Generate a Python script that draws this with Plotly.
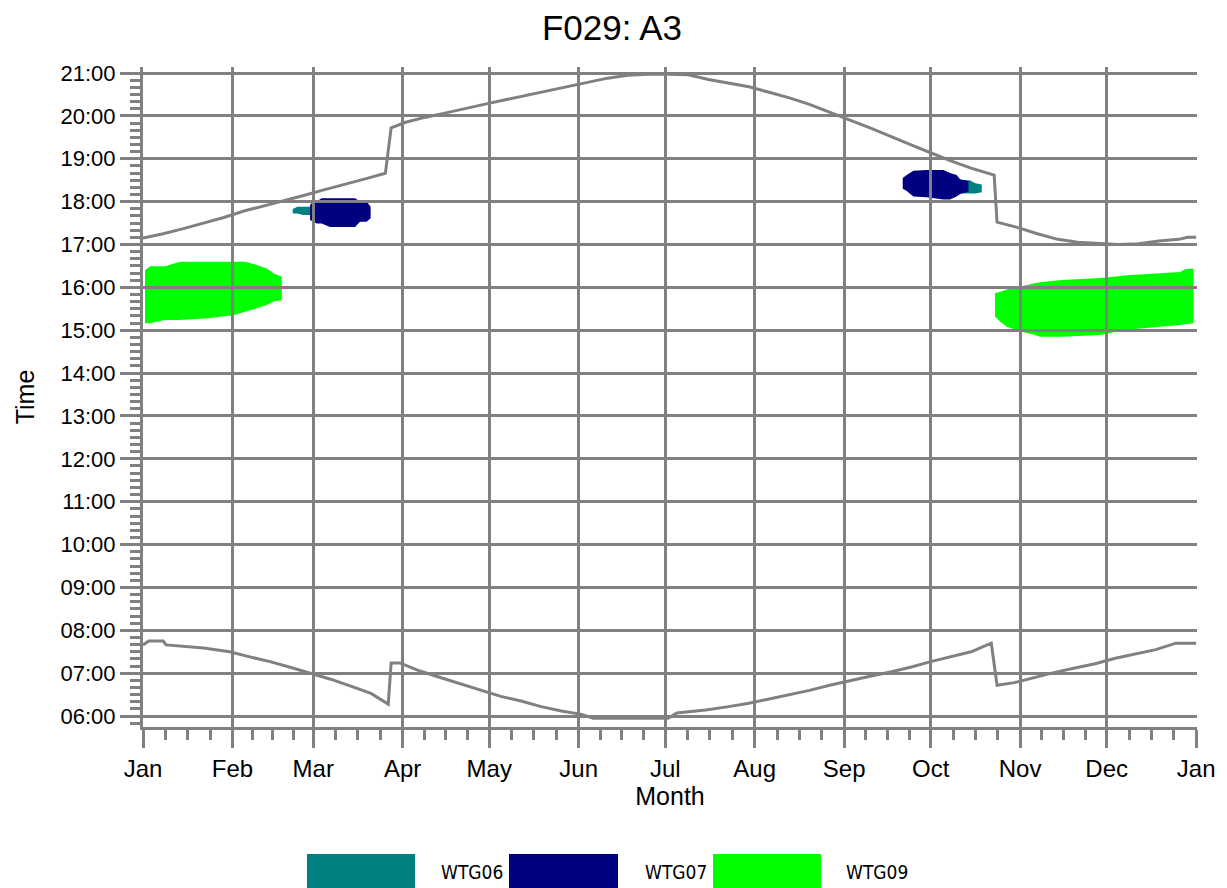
import plotly.graph_objects as go

# ---------------- data ----------------
month_names = ["Jan", "Feb", "Mar", "Apr", "May", "Jun", "Jul", "Aug", "Sep", "Oct", "Nov", "Dec", "Jan"]
month_starts = [0, 31, 59, 90, 120, 151, 181, 212, 243, 273, 304, 334, 365]
hour_ticks = list(range(6, 22))
hour_labels = [f"{h:02d}:00" for h in hour_ticks]

# sunset (day of year, hours)
sunset_day = [0, 7, 14, 21, 28, 35, 42, 49, 56, 63, 70, 77, 84, 86, 91, 98, 105, 112, 119, 126,
              133, 140, 147, 154, 161, 168, 175, 182, 189, 196, 203, 210, 217, 224, 231, 238,
              245, 252, 259, 266, 273, 280, 287, 295, 296, 303, 310, 317, 324, 331, 338, 345,
              352, 359, 362, 365]
sunset_time = [17.15, 17.25, 17.37, 17.50, 17.63, 17.78, 17.90, 18.03, 18.15, 18.28, 18.40, 18.53,
               18.66, 19.72, 19.85, 19.97, 20.07, 20.18, 20.28, 20.38, 20.48, 20.58, 20.68, 20.78,
               20.88, 20.95, 20.97, 20.97, 20.96, 20.85, 20.76, 20.68, 20.55, 20.42, 20.27, 20.08,
               19.90, 19.72, 19.52, 19.33, 19.14, 18.95, 18.78, 18.62, 17.52, 17.40, 17.25, 17.12,
               17.05, 17.02, 17.00, 17.02, 17.08, 17.12, 17.17, 17.17]

# sunrise (day of year, hours)
sunrise_day = [0, 2, 7, 8, 21, 30, 37, 44, 51, 58, 65, 72, 79, 85, 86, 89, 96, 103, 110, 117, 124,
               131, 138, 145, 152, 156, 182, 185, 195, 203, 210, 217, 224, 231, 238, 245, 252,
               259, 266, 273, 280, 287, 294, 296, 302, 309, 316, 323, 330, 337, 344, 351, 358, 365]
sunrise_time = [7.66, 7.75, 7.75, 7.66, 7.59, 7.50, 7.38, 7.27, 7.14, 7.00, 6.86, 6.70, 6.53, 6.28, 7.24,
                7.24, 7.05, 6.90, 6.75, 6.60, 6.46, 6.35, 6.22, 6.12, 6.04, 5.95, 5.95, 6.07, 6.14,
                6.22, 6.30, 6.40, 6.50, 6.60, 6.72, 6.83, 6.93, 7.03, 7.14, 7.27, 7.38, 7.50, 7.70,
                6.72, 6.78, 6.90, 7.02, 7.12, 7.22, 7.35, 7.45, 7.55, 7.70, 7.70]

# shadow-flicker periods: day, start time, end time
wtg06_mar_day = [51.9, 53.5, 55.5, 58.5]
wtg06_mar_start = [17.72, 17.72, 17.69, 17.69]
wtg06_mar_end = [17.83, 17.88, 17.88, 17.88]

wtg06_oct_day = [284.0, 286.5, 288.5, 290.7]
wtg06_oct_start = [18.19, 18.19, 18.19, 18.22]
wtg06_oct_end = [18.50, 18.50, 18.43, 18.40]

wtg07_mar_day = [57.9, 59.0, 60.2, 61.9, 64.8, 73.5, 75.2, 77.5, 78.9]
wtg07_mar_start = [17.57, 17.53, 17.49, 17.49, 17.41, 17.41, 17.53, 17.53, 17.61]
wtg07_mar_end = [17.92, 18.00, 18.00, 18.08, 18.08, 18.08, 18.00, 18.00, 17.88]

wtg07_oct_day = [263.3, 264.7, 267.0, 271.6, 277.4, 279.7, 282.0, 283.2, 286.1]
wtg07_oct_start = [18.30, 18.25, 18.12, 18.10, 18.05, 18.05, 18.12, 18.18, 18.23]
wtg07_oct_end = [18.55, 18.62, 18.72, 18.74, 18.74, 18.67, 18.62, 18.52, 18.48]

wtg09_jan_day = [0.7, 2.5, 7.6, 12.8, 22.6, 31.3, 35.4, 39.4, 42.9, 45.2, 48.1]
wtg09_jan_start = [15.16, 15.16, 15.24, 15.24, 15.28, 15.35, 15.43, 15.51, 15.59, 15.67, 15.70]
wtg09_jan_end = [16.40, 16.49, 16.49, 16.60, 16.60, 16.60, 16.60, 16.52, 16.44, 16.33, 16.25]

wtg09_nov_day = [295.3, 297.1, 299.4, 304.0, 308.6, 310.9, 318.4, 331.7, 336.3, 341.0, 352.5, 359.4, 361.2, 364.1]
wtg09_nov_start = [15.32, 15.20, 15.08, 14.97, 14.90, 14.85, 14.85, 14.89, 14.95, 15.01, 15.08, 15.12, 15.14, 15.16]
wtg09_nov_end = [15.86, 15.90, 15.95, 16.02, 16.09, 16.12, 16.17, 16.22, 16.25, 16.28, 16.33, 16.36, 16.42, 16.44]

turbines = ["WTG06", "WTG07", "WTG09"]
colors = {"WTG06": "#008080", "WTG07": "#000080", "WTG09": "#00FF00"}

GRID = "#808080"
FONT = "Liberation Sans"

# ---------------- figure ----------------
fig = go.Figure()

fig.add_trace(go.Scatter(x=sunset_day, y=sunset_time, mode="lines", line=dict(color=GRID, width=3),
                         showlegend=False, hoverinfo="skip"))
fig.add_trace(go.Scatter(x=sunrise_day, y=sunrise_time, mode="lines", line=dict(color=GRID, width=3),
                         showlegend=False, hoverinfo="skip"))


def blob_path(days, start, end):
    pts = list(zip(days, end)) + list(zip(days[::-1], start[::-1]))
    return "M " + " L ".join(f"{d},{t}" for d, t in pts) + " Z"


blobs = [
    ("WTG06", wtg06_mar_day, wtg06_mar_start, wtg06_mar_end),
    ("WTG06", wtg06_oct_day, wtg06_oct_start, wtg06_oct_end),
    ("WTG07", wtg07_mar_day, wtg07_mar_start, wtg07_mar_end),
    ("WTG07", wtg07_oct_day, wtg07_oct_start, wtg07_oct_end),
    ("WTG09", wtg09_jan_day, wtg09_jan_start, wtg09_jan_end),
    ("WTG09", wtg09_nov_day, wtg09_nov_start, wtg09_nov_end),
]
for name, d, s, e in blobs:
    fig.add_shape(type="path", path=blob_path(d, s, e), xref="x", yref="y",
                  fillcolor=colors[name], line=dict(width=0), layer="below")

# page body adds an 8px offset; layout in figure pixels = reference pixels - OFF
OFF = 8
W, H = 1219, 880
L, R, T, B = 135, 30, 59, 161
pw, ph = W - L - R, H - T - B


def px(x):
    return (x - OFF - L) / pw


def py(y):
    return (H - B - (y - OFF)) / ph


# custom legend (large swatches)
legend_boxes = [(307, 415, 439), (509, 618, 643), (713, 821, 844)]
for name, (x0, x1, xt) in zip(turbines, legend_boxes):
    fig.add_shape(type="rect", xref="paper", yref="paper", x0=px(x0), x1=px(x1), y0=py(854), y1=py(895),
                  fillcolor=colors[name], line=dict(width=0), layer="above")
    fig.add_annotation(text=name, xref="paper", yref="paper", x=px(xt), y=py(872), xanchor="left",
                       yanchor="middle", showarrow=False,
                       font=dict(family="DejaVu Sans Condensed, Liberation Sans, sans-serif", size=19,
                                 color="black"))

minor_x = []
for a, b in zip(month_starts[:-1], month_starts[1:]):
    minor_x += [a + (b - a) * k / 4 for k in (1, 2, 3)]

fig.update_layout(
    width=W, height=H,
    margin=dict(l=L, r=R, t=T, b=B),
    paper_bgcolor="white", plot_bgcolor="white",
    showlegend=False,
    title=dict(text="F029: A3", x=(612 - OFF) / W, xref="container", xanchor="center",
               y=1 - (28 - OFF) / H, yref="container", yanchor="middle",
               font=dict(family=FONT, size=35, color="black")),
    font=dict(family=FONT, color="black"),
)

fig.update_xaxes(
    range=[0, 365.3],
    tickmode="array", tickvals=month_starts, ticktext=month_names,
    tickfont=dict(family=FONT, size=24, color="black"),
    ticks="outside", ticklen=18, tickwidth=3, tickcolor=GRID,
    showgrid=True, gridcolor=GRID, gridwidth=3,
    showline=True, linecolor=GRID, linewidth=3,
    zeroline=False,
    minor=dict(tickmode="array", tickvals=minor_x, ticks="outside", ticklen=10, tickwidth=3,
               tickcolor=GRID, showgrid=False),
    title=dict(text="Month", font=dict(family=FONT, size=25, color="black"), standoff=2),
)
fig.update_yaxes(
    range=[5.745, 21.14],
    tickmode="array", tickvals=hour_ticks, ticktext=hour_labels,
    tickfont=dict(family=FONT, size=22, color="black"),
    ticks="outside", ticklen=20, tickwidth=3, tickcolor=GRID,
    showgrid=True, gridcolor=GRID, gridwidth=3,
    showline=True, linecolor=GRID, linewidth=3,
    zeroline=False,
    minor=dict(tick0=0, dtick=1 / 6, ticks="outside", ticklen=10, tickwidth=2.5,
               tickcolor=GRID, showgrid=False),
    title=dict(text="Time", font=dict(family=FONT, size=25, color="black"), standoff=19),
)

fig.write_html("out.html")
